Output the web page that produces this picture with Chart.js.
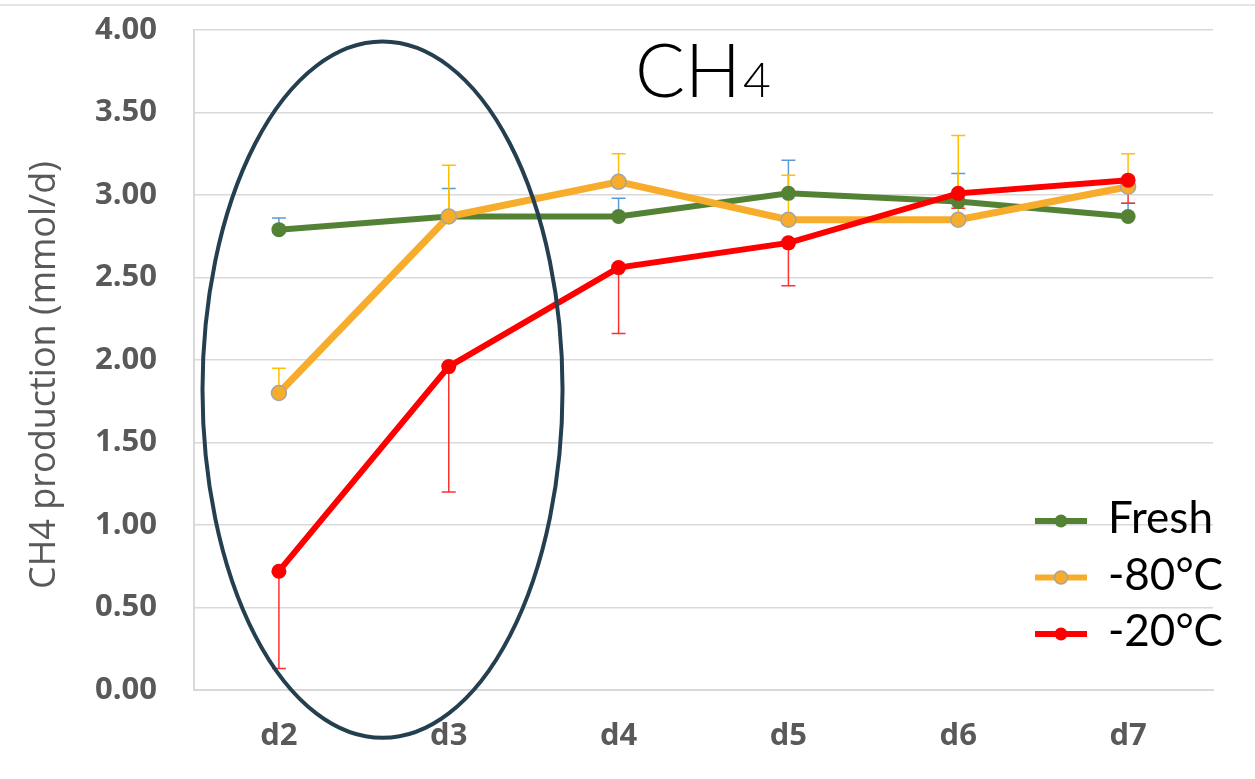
<!DOCTYPE html>
<html>
<head>
<meta charset="utf-8">
<script src="https://cdn.jsdelivr.net/npm/chart.js@4.4.1/dist/chart.umd.min.js"></script>
<style>
  html, body { margin: 0; padding: 0; background: #fff; }
  #wrap { width: 1255px; height: 779px; }
</style>
</head>
<body>
<div id="wrap"><canvas id="ch4Chart" width="1255" height="779"></canvas></div>
<script>
// sampling days
const days = ['d2', 'd3', 'd4', 'd5', 'd6', 'd7'];

// CH4 production (mmol/d) per storage treatment
const fresh = [2.79, 2.87, 2.87, 3.01, 2.96, 2.87];
const minus80 = [1.80, 2.87, 3.08, 2.85, 2.85, 3.05];
const minus20 = [0.72, 1.96, 2.56, 2.71, 3.01, 3.09];

// error bars (fresh and -80 upward, -20 downward)
const freshErr = [0.07, 0.17, 0.11, 0.20, 0.17, 0.08];
const minus80Err = [0.15, 0.31, 0.17, 0.27, 0.51, 0.20];
const minus20Err = [0.59, 0.76, 0.40, 0.26, 0.09, 0.14];

const seriesLabels = ['Fresh', '-80°C', '-20°C'];
const yTickStep = 0.5;

// highlight ellipse around d2-d3, in axis units (category index / mmol/d)
const ringCenter = { x: 0.61, y: 1.82 };
const ringRadius = { x: 1.06, y: 2.11 };

const GREY_TEXT = '#595959';
const GRID = '#D9D9D9';

Chart.defaults.font.family = "'Open Sans', sans-serif";

// error bars under the lines
const errorBars = {
    id: 'errorBars',
    beforeDatasetsDraw(chart) {
        const ctx = chart.ctx;
        const y = chart.scales.y;
        chart.data.datasets.forEach((ds, i) => {
            const meta = chart.getDatasetMeta(i);
            ctx.save();
            ctx.strokeStyle = ds.errColor;
            ctx.lineWidth = 1.5;
            meta.data.forEach((pt, j) => {
                const v = ds.data[j];
                const end = ds.errDir > 0 ? v + ds.err[j] : v - ds.err[j];
                const yEnd = y.getPixelForValue(end);
                ctx.beginPath();
                ctx.moveTo(pt.x, pt.y);
                ctx.lineTo(pt.x, yEnd);
                ctx.moveTo(pt.x - 7, yEnd);
                ctx.lineTo(pt.x + 7, yEnd);
                ctx.stroke();
            });
            ctx.restore();
        });
    }
};

// title, y label, legend and ellipse
const decorations = {
    id: 'decorations',
    afterDraw(chart) {
        const ctx = chart.ctx;
        const xs = chart.scales.x;
        const ys = chart.scales.y;

        ctx.save();
        // faint frame line along the top
        ctx.strokeStyle = '#E6E6E6';
        ctx.lineWidth = 2;
        ctx.beginPath();
        ctx.moveTo(0, 5);
        ctx.lineTo(1255, 5);
        ctx.stroke();

        // title CH4
        ctx.fillStyle = '#000';
        ctx.textBaseline = 'alphabetic';
        ctx.textAlign = 'left';
        ctx.font = "300 74px Lato, 'Open Sans', sans-serif";
        ctx.fillText('CH', 635, 97);
        const w = ctx.measureText('CH').width;
        ctx.font = "300 48px Lato, 'Open Sans', sans-serif";
        ctx.fillText('4', 635 + w + 2, 97);

        // y axis title
        ctx.save();
        ctx.translate(45, 375);
        ctx.rotate(-Math.PI / 2);
        ctx.textAlign = 'center';
        ctx.textBaseline = 'middle';
        ctx.fillStyle = GREY_TEXT;
        ctx.font = "36px 'Open Sans', sans-serif";
        ctx.fillText('CH4 production (mmol/d)', 0, 0);
        ctx.restore();

        // legend
        chart.data.datasets.forEach((ds, i) => {
            const ly = 521 + i * 56.5;
            ctx.strokeStyle = ds.borderColor;
            ctx.lineWidth = 6;
            ctx.beginPath();
            ctx.moveTo(1035, ly);
            ctx.lineTo(1087, ly);
            ctx.stroke();
            ctx.beginPath();
            ctx.arc(1061, ly, 6.5, 0, Math.PI * 2);
            ctx.fillStyle = ds.pointBackgroundColor;
            ctx.fill();
            if (ds.pointBorderColor !== ds.pointBackgroundColor) {
                ctx.lineWidth = 1.5;
                ctx.strokeStyle = ds.pointBorderColor;
                ctx.stroke();
            }
            ctx.fillStyle = '#000';
            ctx.font = "44px Lato, 'Open Sans', sans-serif";
            ctx.textAlign = 'left';
            ctx.textBaseline = 'alphabetic';
            ctx.fillText(ds.label, 1108, ly + 12);
        });

        // ellipse around the first two days
        const cx = xs.getPixelForValue(ringCenter.x);
        const cy = ys.getPixelForValue(ringCenter.y);
        const rx = xs.getPixelForValue(ringCenter.x + ringRadius.x) - cx;
        const ry = cy - ys.getPixelForValue(ringCenter.y + ringRadius.y);
        ctx.strokeStyle = '#243F50';
        ctx.lineWidth = 4;
        ctx.beginPath();
        ctx.ellipse(cx, cy, rx, ry, 0, 0, Math.PI * 2);
        ctx.stroke();
        ctx.restore();
    }
};

function lineSet(label, data, color, err, errDir, errColor, markerEdge, order, width) {
    return {
        label: label,
        data: data,
        borderColor: color,
        backgroundColor: color,
        borderWidth: width,
        pointRadius: 7.5,
        pointBackgroundColor: color,
        pointBorderColor: markerEdge || color,
        pointBorderWidth: markerEdge ? 1.5 : 0,
        tension: 0,
        order: order,
        err: err,
        errDir: errDir,
        errColor: errColor
    };
}

const tickFont = { family: "'Open Sans', sans-serif", size: 31, weight: 'bold' };

new Chart(document.getElementById('ch4Chart'), {
    type: 'line',
    data: {
        labels: days,
        datasets: [
            lineSet(seriesLabels[0], fresh, '#548235', freshErr, 1, '#5B9BD5', null, 3, 6),
            lineSet(seriesLabels[1], minus80, '#F7AD2B', minus80Err, 1, '#FFC000', '#A5A5A5', 2, 7),
            lineSet(seriesLabels[2], minus20, '#FF0000', minus20Err, -1, '#FF3030', null, 1, 6)
        ]
    },
    options: {
        responsive: false,
        animation: false,
        devicePixelRatio: 1,
        layout: { padding: { top: 30, right: 42, left: 0, bottom: 0 } },
        plugins: {
            legend: { display: false },
            tooltip: { enabled: false }
        },
        scales: {
            x: {
                offset: true,
                grid: { display: false, drawTicks: false },
                border: { display: true, color: GRID, width: 2 },
                ticks: { font: tickFont, color: GREY_TEXT, padding: 28 },
                afterFit(scale) {
                    scale.height = 89;
                    scale.paddingLeft = 0;
                    scale.paddingRight = 0;
                }
            },
            y: {
                min: 0,
                max: 4,
                ticks: {
                    stepSize: yTickStep,
                    font: tickFont,
                    color: GREY_TEXT,
                    padding: 37,
                    callback: v => v.toFixed(2)
                },
                grid: { color: GRID, lineWidth: 1.5, drawTicks: false },
                border: { display: true, color: GRID, width: 2 },
                afterFit(scale) {
                    scale.width = 194;
                    scale.paddingTop = 0;
                    scale.paddingBottom = 0;
                }
            }
        }
    },
    plugins: [errorBars, decorations]
});
</script>
</body>
</html>
